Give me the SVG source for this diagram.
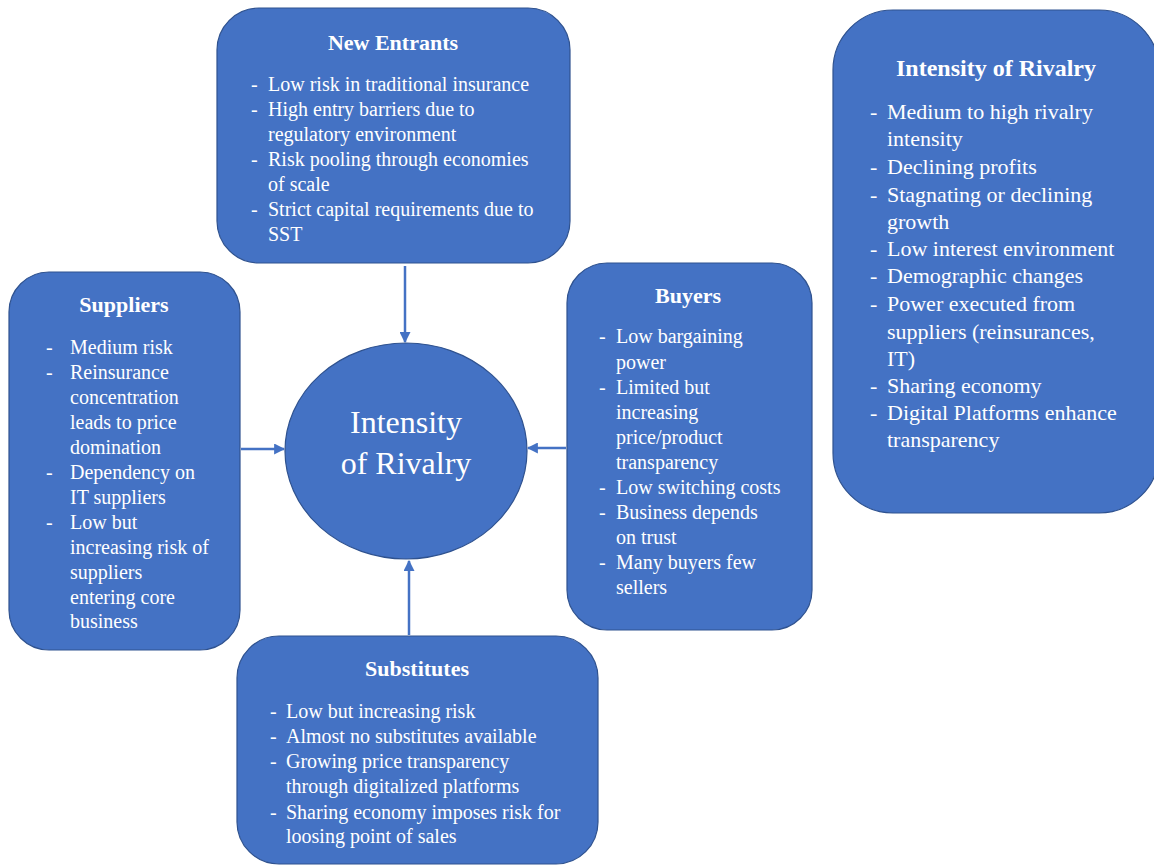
<svg xmlns="http://www.w3.org/2000/svg" width="1154" height="865" viewBox="0 0 1154 865">
<style>
.box{fill:#4472C4;stroke:#2F528F;stroke-width:1.2}
.t{font-size:22px;font-weight:bold;fill:#fff;text-anchor:middle}
.b{font-size:20px;fill:#fff}
.bl{font-size:22px;fill:#fff}
.c{font-size:32px;fill:#fff;text-anchor:middle}
.con{stroke:#4472C4;stroke-width:2.5;fill:none;marker-end:url(#ah)}
</style>
<defs>
<marker id="ah" viewBox="0 0 10 10" refX="9" refY="5" markerWidth="4.4" markerHeight="4.4" orient="auto" markerUnits="strokeWidth">
<path d="M0,0 L10,5 L0,10 z" fill="#4472C4"/>
</marker>
</defs>
<rect width="1154" height="865" fill="#fff"/>
<g id="connectors">
<line class="con" x1="405" y1="266" x2="405" y2="342"/>
<line class="con" x1="241" y1="449" x2="284" y2="449"/>
<line class="con" x1="566" y1="448" x2="528" y2="448"/>
<line class="con" x1="409" y1="635" x2="409" y2="561"/>
</g>
<g id="center">
<ellipse class="box" cx="406" cy="451" rx="121" ry="108"/>
<text class="c" font-family="Liberation Serif, Times New Roman, serif" x="406" y="433">Intensity</text>
<text class="c" font-family="Liberation Serif, Times New Roman, serif" x="406" y="474">of Rivalry</text>
</g>
<g id="new-entrants">
<rect class="box" x="217" y="8" width="353" height="255" rx="42"/>
<text class="t" font-family="Liberation Serif, Times New Roman, serif" x="393" y="50">New Entrants</text>
<text class="b" font-family="Liberation Serif, Times New Roman, serif">
<tspan x="251" y="91">-</tspan><tspan x="268" y="91">Low risk in traditional insurance</tspan>
<tspan x="251" y="116">-</tspan><tspan x="268" y="116">High entry barriers due to</tspan>
<tspan x="268" y="141">regulatory environment</tspan>
<tspan x="251" y="166">-</tspan><tspan x="268" y="166">Risk pooling through economies</tspan>
<tspan x="268" y="191">of scale</tspan>
<tspan x="251" y="216">-</tspan><tspan x="268" y="216">Strict capital requirements due to</tspan>
<tspan x="268" y="241">SST</tspan>
</text>
</g>
<g id="suppliers">
<rect class="box" x="9" y="272" width="231" height="378" rx="40"/>
<text class="t" font-family="Liberation Serif, Times New Roman, serif" x="124" y="312">Suppliers</text>
<text class="b" font-family="Liberation Serif, Times New Roman, serif">
<tspan x="46" y="354">-</tspan><tspan x="70" y="354">Medium risk</tspan>
<tspan x="46" y="379">-</tspan><tspan x="70" y="379">Reinsurance</tspan>
<tspan x="70" y="404">concentration</tspan>
<tspan x="70" y="429">leads to price</tspan>
<tspan x="70" y="454">domination</tspan>
<tspan x="46" y="479">-</tspan><tspan x="70" y="479">Dependency on</tspan>
<tspan x="70" y="504">IT suppliers</tspan>
<tspan x="46" y="529">-</tspan><tspan x="70" y="529">Low but</tspan>
<tspan x="70" y="554">increasing risk of</tspan>
<tspan x="70" y="579">suppliers</tspan>
<tspan x="70" y="604">entering core</tspan>
<tspan x="70" y="628">business</tspan>
</text>
</g>
<g id="buyers">
<rect class="box" x="567" y="263" width="245" height="367" rx="40"/>
<text class="t" font-family="Liberation Serif, Times New Roman, serif" x="688" y="303">Buyers</text>
<text class="b" font-family="Liberation Serif, Times New Roman, serif">
<tspan x="599" y="343">-</tspan><tspan x="616" y="343">Low bargaining</tspan>
<tspan x="616" y="369">power</tspan>
<tspan x="599" y="394">-</tspan><tspan x="616" y="394">Limited but</tspan>
<tspan x="616" y="419">increasing</tspan>
<tspan x="616" y="444">price/product</tspan>
<tspan x="616" y="469">transparency</tspan>
<tspan x="599" y="494">-</tspan><tspan x="616" y="494">Low switching costs</tspan>
<tspan x="599" y="519">-</tspan><tspan x="616" y="519">Business depends</tspan>
<tspan x="616" y="544">on trust</tspan>
<tspan x="599" y="569">-</tspan><tspan x="616" y="569">Many buyers few</tspan>
<tspan x="616" y="594">sellers</tspan>
</text>
</g>
<g id="substitutes">
<rect class="box" x="237" y="636" width="361" height="228" rx="42"/>
<text class="t" font-family="Liberation Serif, Times New Roman, serif" x="417" y="676">Substitutes</text>
<text class="b" font-family="Liberation Serif, Times New Roman, serif">
<tspan x="270" y="718">-</tspan><tspan x="286" y="718">Low but increasing risk</tspan>
<tspan x="270" y="743">-</tspan><tspan x="286" y="743">Almost no substitutes available</tspan>
<tspan x="270" y="768">-</tspan><tspan x="286" y="768">Growing price transparency</tspan>
<tspan x="286" y="793">through digitalized platforms</tspan>
<tspan x="270" y="819">-</tspan><tspan x="286" y="819">Sharing economy imposes risk for</tspan>
<tspan x="286" y="843">loosing point of sales</tspan>
</text>
</g>
<g id="intensity-of-rivalry">
<rect class="box" x="833" y="10" width="326" height="503" rx="60"/>
<text class="t" font-family="Liberation Serif, Times New Roman, serif" x="996" y="76" style="font-size:24px">Intensity of Rivalry</text>
<text class="bl" font-family="Liberation Serif, Times New Roman, serif">
<tspan x="870" y="119">-</tspan><tspan x="887" y="119">Medium to high rivalry</tspan>
<tspan x="887" y="146">intensity</tspan>
<tspan x="870" y="174">-</tspan><tspan x="887" y="174">Declining profits</tspan>
<tspan x="870" y="202">-</tspan><tspan x="887" y="202">Stagnating or declining</tspan>
<tspan x="887" y="229">growth</tspan>
<tspan x="870" y="256">-</tspan><tspan x="887" y="256">Low interest environment</tspan>
<tspan x="870" y="283">-</tspan><tspan x="887" y="283">Demographic changes</tspan>
<tspan x="870" y="311">-</tspan><tspan x="887" y="311">Power executed from</tspan>
<tspan x="887" y="339">suppliers (reinsurances,</tspan>
<tspan x="887" y="366">IT)</tspan>
<tspan x="870" y="393">-</tspan><tspan x="887" y="393">Sharing economy</tspan>
<tspan x="870" y="420">-</tspan><tspan x="887" y="420">Digital Platforms enhance</tspan>
<tspan x="887" y="447">transparency</tspan>
</text>
</g>
</svg>
